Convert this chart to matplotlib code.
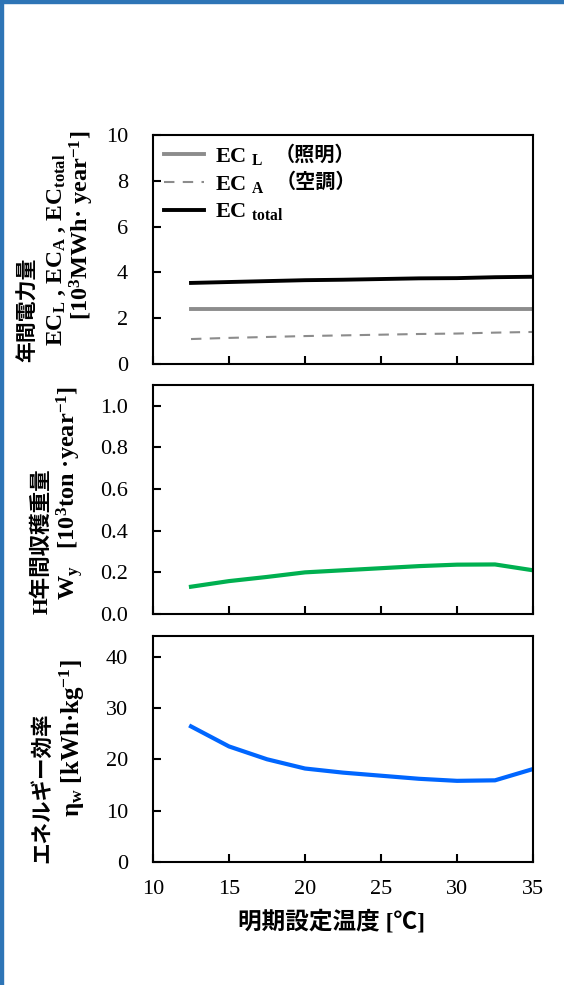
import matplotlib
matplotlib.use("Agg")
import matplotlib.pyplot as plt
from matplotlib.patches import Rectangle

plt.rcParams['font.family'] = ['Liberation Serif', 'Noto Sans CJK JP']
plt.rcParams['mathtext.fontset'] = 'custom'
plt.rcParams['mathtext.rm'] = 'Liberation Serif'
plt.rcParams['mathtext.it'] = 'Liberation Serif:italic'
plt.rcParams['mathtext.bf'] = 'Liberation Serif:bold'

# data
temp = [12.5, 15, 17.5, 20, 22.5, 25, 27.5, 30, 32.5, 35]
ec_l = [2.4, 2.4, 2.4, 2.4, 2.4, 2.4, 2.4, 2.4, 2.4, 2.4]
ec_a = [1.09, 1.14, 1.18, 1.22, 1.25, 1.28, 1.31, 1.33, 1.37, 1.40]
ec_total = [3.54, 3.58, 3.62, 3.66, 3.68, 3.71, 3.74, 3.75, 3.79, 3.81]
w_y = [0.131, 0.158, 0.178, 0.200, 0.210, 0.220, 0.230, 0.237, 0.238, 0.210]
eta_w = [26.4, 22.5, 20.0, 18.2, 17.4, 16.8, 16.2, 15.8, 15.9, 18.1]

legend_names = ['EC $_\\mathbf{L}$', 'EC $_\\mathbf{A}$', 'EC $_\\mathbf{total}$']
legend_jp = ['（照明）', '（空調）']

xticks = [10, 15, 20, 25, 30, 35]
yticks1 = [0, 2, 4, 6, 8, 10]
yticks2 = [0.0, 0.2, 0.4, 0.6, 0.8, 1.0]
yticks3 = [0, 10, 20, 30, 40]

W, H = 564, 985
fig = plt.figure(figsize=(W / 100, H / 100), dpi=100)

# blue frame at top and left
fig.patches.append(Rectangle((0, 1 - 3 / H), 1, 3 / H, transform=fig.transFigure,
                             color='#2E75B6', zorder=10))
fig.patches.append(Rectangle((0, 0), 3 / W, 1, transform=fig.transFigure,
                             color='#2E75B6', zorder=10))


def box(top, bottom):
    return [153 / W, 1 - bottom / H, (533 - 153) / W, (bottom - top) / H]


ax1 = fig.add_axes(box(135, 364))
ax2 = fig.add_axes(box(385, 614))
ax3 = fig.add_axes(box(636, 862))

ax1.plot(temp, ec_l, color='#8C8C8C', lw=2.8, label=legend_names[0])
ax1.plot(temp, ec_a, color='#8C8C8C', lw=1.5, ls=(0, (5, 4)), label=legend_names[1])
ax1.plot(temp, ec_total, color='black', lw=2.8, label=legend_names[2])
ax2.plot(temp, w_y, color='#00B050', lw=3)
ax3.plot(temp, eta_w, color='#0066FF', lw=3)

ax1.set_ylim(0, 10)
ax1.set_yticks(yticks1)
ax2.set_ylim(0, 1.1)
ax2.set_yticks(yticks2)
ax2.set_yticklabels(['%.1f' % v for v in yticks2])
ax3.set_ylim(0, 44)
ax3.set_yticks(yticks3)

for ax in (ax1, ax2, ax3):
    ax.set_xlim(10, 35)
    ax.set_xticks(xticks)
    for s in ax.spines.values():
        s.set_linewidth(1.5)
    ax.tick_params(direction='in', length=6, width=1.5, labelsize=16, pad=18, axis='y')
    ax.tick_params(direction='in', length=6, width=1.5, labelsize=16, pad=13, axis='x')
ax1.tick_params(labelbottom=False)
ax2.tick_params(labelbottom=False)

leg = ax1.legend(loc='upper left', frameon=False, handlelength=1.8, handletextpad=0.5,
                 labelspacing=0.3, borderaxespad=0.2, borderpad=0.3,
                 prop={'family': 'Liberation Serif', 'weight': 'bold', 'size': 16})
cjk = ['Noto Sans CJK JP']
# the Japanese part of the legend labels (mathtext cannot fall back to a CJK font)
for t, jp in zip(leg.get_texts(), legend_jp):
    ax1.annotate(jp, xy=(1, 0.5), xycoords=t, xytext=(8, 2), textcoords='offset points',
                 ha='left', va='center', family=cjk, fontweight='bold', fontsize=14.5,
                 zorder=6)

lab = dict(rotation=90, ha='center', va='center', fontweight='bold')
# panel 1 y label
fig.text(27 / W, 1 - 310 / H, '年間電力量', family=cjk, fontsize=15, **lab)
fig.text(57 / W, 1 - 250 / H, 'EC$_\\mathbf{L}$ , EC$_\\mathbf{A}$ , EC$_\\mathbf{total}$',
         fontsize=17, **lab)
fig.text(82 / W, 1 - 225 / H, '[10$^\\mathbf{3}$MWh· year$^\\mathbf{-1}$]', fontsize=17.5, **lab)
# panel 2 y label
fig.text(42 / W, 1 - 541 / H, 'H年間収穫重量', fontsize=15.5, **lab)
fig.text(70 / W, 1 - 493 / H, 'W$_\\mathbf{y}$   [10$^\\mathbf{3}$ton ·year$^\\mathbf{-1}$]',
         fontsize=17.5, **lab)
# panel 3 y label
fig.text(42 / W, 1 - 788 / H, 'エネルギー効率', family=cjk, fontsize=15.5, **lab)
fig.text(72 / W, 1 - 738 / H, 'η$_\\mathbf{w}$ [kWh·kg$^\\mathbf{-1}$]', fontsize=18, **lab)

# x label
fig.text(331 / W, 1 - 922 / H, '明期設定温度 [℃]', fontsize=17, fontweight='bold',
         ha='center', va='center')

fig.savefig('out.png', dpi=100)
